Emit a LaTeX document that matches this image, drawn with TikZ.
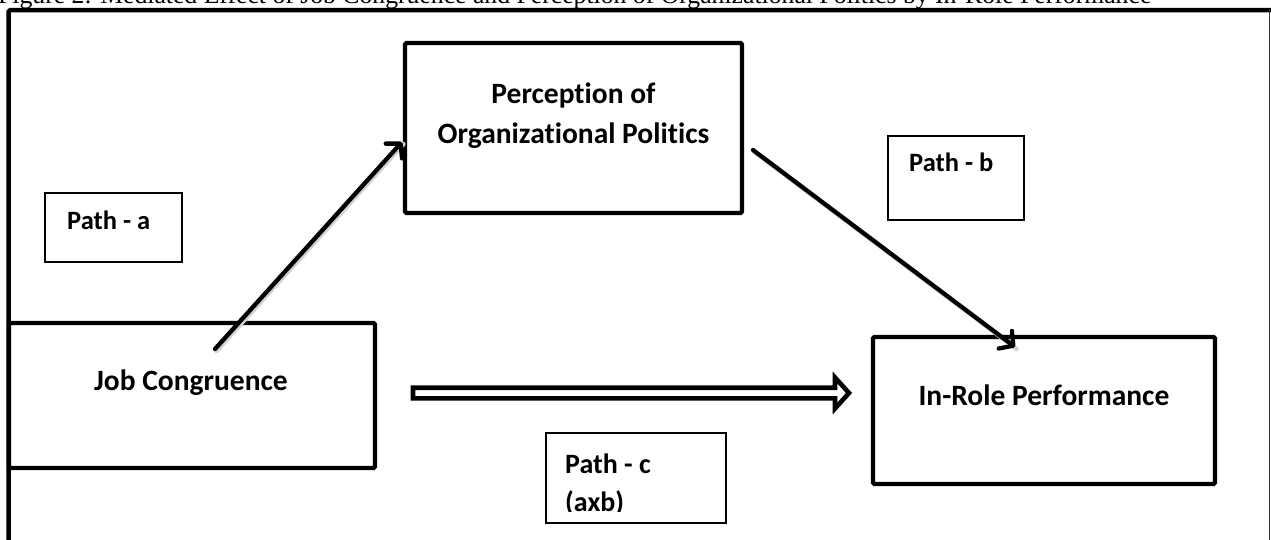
\documentclass[tikz,border=0pt]{standalone}
\usepackage{fontspec}
\setmainfont{Liberation Serif}
\newfontfamily\calfont[Ligatures=NoCommon]{Carlito}
\usetikzlibrary{arrows.meta,calc}
\begin{document}
\begin{tikzpicture}[x=1pt,y=-1pt,
  mainbox/.style={draw, line width=4.3pt, rounded corners=1.5pt, inner sep=0pt},
  pathbox/.style={draw, line width=1.4pt, inner sep=0pt},
  maintext/.style={inner sep=0pt, align=center, font=\calfont\bfseries\fontsize{29.5}{40}\selectfont},
  pathtext/.style={inner sep=0pt, anchor=base west, align=left, font=\calfont\bfseries\fontsize{26.5}{35}\selectfont},
  patharrow/.style={line width=4.3pt, line cap=round, -{Straight Barb[length=10pt,width=22pt,round]}},
  blockarrow/.style={line width=4.6pt, line join=miter, fill=white},
]
\useasboundingbox (0,0) rectangle (1271,539);
% title (clipped at top, as in the reference)
\node[anchor=base west, inner sep=0pt, font=\fontsize{25.7}{30}\selectfont] (title) at (-2,3.5)
  {Figure 2: Mediated Effect of Job Congruence and Perception of Organizational Politics by In-Role Performance};
% outer frame
\fill[white] (6,9) rectangle (1271,539);
\draw[line width=4.5pt, rounded corners=1.5pt] (8.7,545) -- (8.7,10) -- (1275,10);
\draw[line width=1.3pt, black!80] (1269.3,10) -- (1269.3,545);
% main boxes
\node[mainbox, minimum width=337pt, minimum height=170pt] (pop) at (573.5,128) {};
\node[maintext, anchor=base] (poptext) at (573.5,143.3) {Perception of\\Organizational Politics};
\node[mainbox, minimum width=366pt, minimum height=145pt] (jc) at (192,395.5) {};
\node[maintext, anchor=base] (jctext) at (191,390.7) {Job Congruence};
\node[mainbox, minimum width=342pt, minimum height=147pt] (irp) at (1044,410.5) {};
\node[maintext, anchor=base] (irptext) at (1044,405) {In-Role Performance};
% path label boxes
\node[pathbox, minimum width=137pt, minimum height=69pt] (pa) at (113.5,227.5) {};
\node[pathtext] (patext) at (67,229) {Path - a};
\node[pathbox, minimum width=136pt, minimum height=84pt] (pb) at (956,178) {};
\node[pathtext] (pbtext) at (909,171.7) {Path - b};
\node[pathbox, minimum width=180pt, minimum height=90pt] (pc) at (636,478) {};
\begin{scope}
  \clip (pc.north west) rectangle ($(pc.south east)+(0,-12)$);
  \node[pathtext, font=\calfont\bfseries\fontsize{28}{38}\selectfont] (pctext) at (565,511) {Path - c\\(axb)};
\end{scope}
% arrows
\coordinate (a0) at (215,349);
\coordinate (a1) at (402,142);
\coordinate (b0) at (753,150);
\coordinate (b1) at (1015,347);
\draw[line width=4.3pt, line cap=round, black!18, transform canvas={shift={(1.5pt,-2pt)}}] (a0) -- (a1);
\draw[line width=4.3pt, line cap=round, black!18, transform canvas={shift={(1.5pt,-2pt)}}] (b0) -- (b1);
\draw[patharrow] (a0) -- (a1);
\draw[patharrow] (b0) -- (b1);
% block arrow (path c)
\coordinate (c0) at (413,393);
\coordinate (c1) at (849,393);
\draw[blockarrow] ($(c0)+(0,-5.3)$) -- ($(c1)+(-14,-5.3)$) -- ($(c1)+(-14,-15.5)$) -- (c1)
  -- ($(c1)+(-14,15.5)$) -- ($(c1)+(-14,5.3)$) -- ($(c0)+(0,5.3)$) -- cycle;
\end{tikzpicture}
\end{document}
